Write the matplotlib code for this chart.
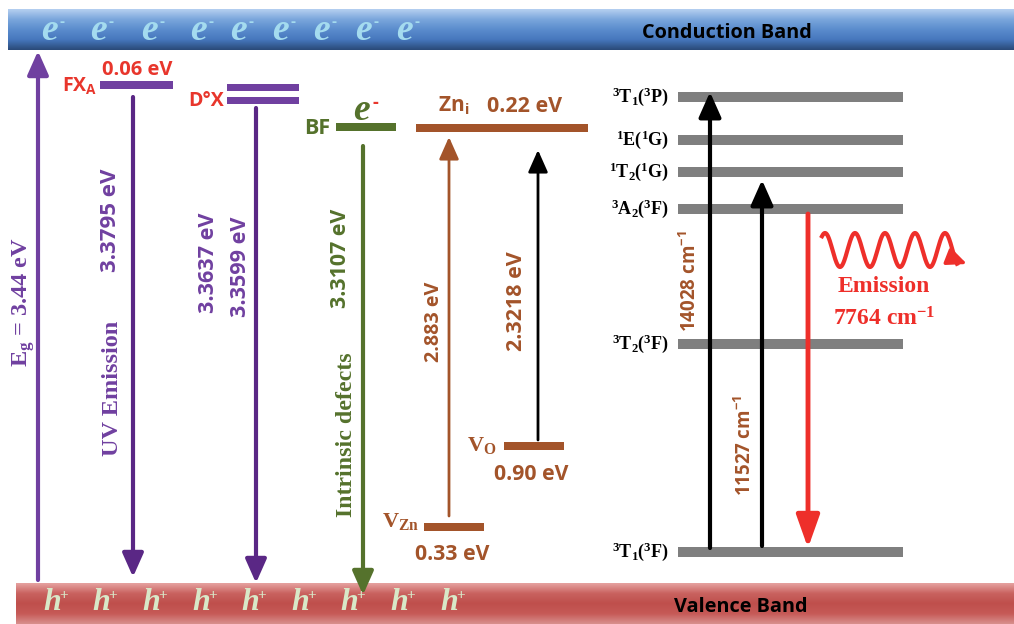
import numpy as np
import matplotlib
matplotlib.use("Agg")
import matplotlib.pyplot as plt
from matplotlib.patches import Rectangle, FancyArrowPatch
from matplotlib.colors import LinearSegmentedColormap

plt.rcParams["mathtext.default"] = "regular"

SANS = ["Open Sans", "DejaVu Sans"]
SERIF = ["Liberation Serif", "DejaVu Serif"]

# ZnO side (level heights, in pixel rows)
zno_levels = ["FXA", "D0X_1", "D0X_2", "BF", "Zni", "VO", "VZn"]
zno_level_y = [85, 87, 100, 127, 128, 446, 527]
zno_depths = ["0.06 eV", "0.22 eV", "0.90 eV", "0.33 eV"]
transitions_ev = ["3.3795 eV", "3.3637 eV", "3.3599 eV", "3.3107 eV", "2.883 eV", "2.3218 eV"]
band_gap = "E$_g$ = 3.44 eV"

# Ni2+ crystal field terms (top to bottom)
terms = ["$^3$T$_1$($^3$P)", "$^1$E($^1$G)", "$^1$T$_2$($^1$G)",
         "$^3$A$_2$($^3$F)", "$^3$T$_2$($^3$F)", "$^3$T$_1$($^3$F)"]
term_y = [97, 140, 172, 209, 344, 552]
absorption = ["14028 cm$^{-1}$", "11527 cm$^{-1}$"]
emission = "7764 cm$^{-1}$"

PURPLE = "#7040a0"
DPURPLE = "#5a2785"
RED = "#e8362c"
EMIT = "#ee2f2a"
GREEN = "#55722c"
BROWN = "#a3542a"
GRAY = "#7f7f7f"

fig = plt.figure(figsize=(10.14, 6.24), dpi=100)
ax = fig.add_axes([0, 0, 1, 1])


def band(x0, x1, y0, y1, colors):
    cmap = LinearSegmentedColormap.from_list("b", colors)
    grad = np.linspace(0, 1, 100).reshape(-1, 1)
    ax.imshow(grad, cmap=cmap, extent=[x0, x1, y1, y0], aspect="auto",
              interpolation="bicubic", zorder=1)


def level(x0, x1, y, h, color):
    ax.add_patch(Rectangle((x0, y - h / 2), x1 - x0, h, color=color, lw=0, zorder=3))


def arrow(x, y0, y1, color, lw, ms=16, hw=0.4):
    style = "-|>,head_length=0.9,head_width=%.2f" % hw
    ax.add_patch(FancyArrowPatch((x, y0), (x, y1), arrowstyle=style, color=color,
                                 lw=lw, mutation_scale=ms, shrinkA=0, shrinkB=0,
                                 zorder=4))


def txt(x, y, s, color, size, fam=SANS, rot=0, ha="center", style="normal", **kw):
    ax.text(x, y, s, color=color, fontsize=size, family=fam, rotation=rot,
            ha=ha, va="center", fontweight="bold", fontstyle=style, zorder=6, **kw)


# bands
band(8, 1014, 9, 50, ["#b5cff0", "#7aa6dc", "#5a8ccd", "#4677bd", "#2a4a78"])
band(16, 1014, 583, 624, ["#e6a2a0", "#c9625f", "#bf4f4c", "#c65a57", "#d88f8d"])
e_x = [49, 98, 149, 198, 238, 280, 321, 363, 404]
for x in e_x:
    txt(x, 31, "e", "#a4dbef", 27, fam=SERIF, style="italic")
    txt(x + 13, 22, "-", "#a4dbef", 11)
h_x = [52, 101, 151, 201, 250, 300, 349, 399, 449]
for x in h_x:
    txt(x, 602, "h", "#d8e8c8", 23, fam=SERIF, style="italic")
    txt(x + 12, 596, "+", "#d8e8c8", 11, fam=SERIF)
txt(727, 33, "Conduction Band", "black", 14.3)
txt(741, 607, "Valence Band", "black", 14.3)

# band gap
arrow(38, 580, 51, PURPLE, 3)
txt(24, 302, band_gap, PURPLE, 17.5, fam=SERIF, rot=90)

# FX_A
level(100, 173, zno_level_y[0], 8, PURPLE)
txt(80, 86, "FX$_A$", RED, 14)
txt(137, 70, zno_depths[0], RED, 14.5)
arrow(133, 97, 577, DPURPLE, 3)
txt(111, 220, transitions_ev[0], PURPLE, 16, rot=90)
txt(112, 388, "UV Emission", PURPLE, 17.5, fam=SERIF, rot=90)

# D0X
level(227, 299, zno_level_y[1], 7, PURPLE)
level(227, 299, zno_level_y[2], 7, PURPLE)
txt(206, 101, "D°X", RED, 14)
arrow(256, 108, 583, DPURPLE, 3)
txt(208, 263, transitions_ev[1], PURPLE, 15.6, rot=90)
txt(240, 267, transitions_ev[2], PURPLE, 15.6, rot=90)

# BF
level(336, 396, zno_level_y[3], 8, GREEN)
txt(317, 128, "BF", GREEN, 15.5)
ax.text(361, 111, "e", color=GREEN, fontsize=27, family=SERIF, fontstyle="italic",
        fontweight="bold", ha="center", va="center", zorder=6)
ax.text(375, 103, "-", color=RED, fontsize=13, family=SANS, fontweight="bold",
        ha="center", va="center", zorder=6)
arrow(363, 146, 595, GREEN, 3)
txt(340, 258, transitions_ev[3], GREEN, 15.4, rot=90)
txt(347, 435, "Intrinsic defects", GREEN, 17.2, fam=SERIF, rot=90)

# Zn_i
level(416, 588, zno_level_y[4], 8, BROWN)
txt(454, 106, "Zn$_i$", BROWN, 15)
txt(525, 107, zno_depths[1], BROWN, 15.5)

# V_O
level(504, 564, zno_level_y[5], 8, BROWN)
txt(482, 446, "V$_O$", BROWN, 16, fam=SERIF)
txt(531, 475, zno_depths[2], BROWN, 15.3)
arrow(538, 440, 150, "black", 2, ms=15)
txt(516, 301, transitions_ev[5], BROWN, 15.5, rot=90)

# V_Zn
level(424, 484, zno_level_y[6], 8, BROWN)
txt(401, 521, "V$_{Zn}$", BROWN, 16, fam=SERIF)
txt(452, 555, zno_depths[3], BROWN, 15.3)
arrow(449, 516, 137, BROWN, 2, ms=15)
txt(434, 322, transitions_ev[4], BROWN, 14.2, rot=90)

# Ni terms
for name, y in zip(terms, term_y):
    level(678, 903, y, 10, GRAY)
    txt(669, y, name, "black", 13, fam=SERIF, ha="right")

arrow(710, 548, term_y[0] - 5, "black", 3, ms=17)
arrow(762, 546, term_y[2] + 8, "black", 3, ms=17)
arrow(808, term_y[3] + 5, 548, EMIT, 3.5, ms=22, hw=0.32)
txt(690, 281, absorption[0], BROWN, 13.5, rot=90)
txt(745, 445, absorption[1], BROWN, 13.5, rot=90)
txt(884, 287, "Emission", EMIT, 17, fam=SERIF)
txt(884, 319, emission, EMIT, 17, fam=SERIF)

# wavy emission photon
wx = np.linspace(822, 957, 400)
wy = 250 - 17 * np.cos((wx - 825) / 30 * 2 * np.pi)
ax.plot(wx, wy, color=EMIT, lw=3, zorder=5)
ax.add_patch(FancyArrowPatch((wx[-6], wy[-6]), (967, 264),
                             arrowstyle="-|>,head_length=0.9,head_width=0.4",
                             color=EMIT, lw=2.5, mutation_scale=13, shrinkA=0, shrinkB=0,
                             zorder=5))

ax.set_xlim(0, 1014)
ax.set_ylim(624, 0)
ax.axis("off")
fig.savefig("out.png", dpi=100)
